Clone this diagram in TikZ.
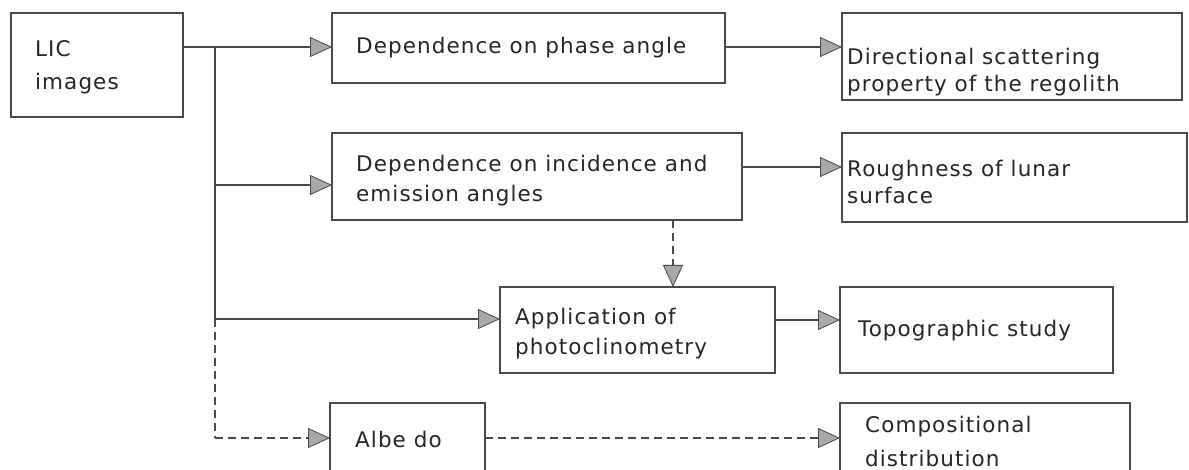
\documentclass[tikz,border=0pt]{standalone}
\usepackage{fontspec}
\setmainfont{DejaVu Sans}[LetterSpace=5]
\usetikzlibrary{arrows.meta}
\definecolor{ln}{HTML}{4A4A4A}
\definecolor{tipfill}{HTML}{A8A8A8}
\tikzset{
  box/.style={draw=ln, line width=1.4pt, inner sep=0pt, outer sep=0pt, rectangle},
  txt/.style={anchor=west, align=left, inner sep=0pt, text=black!85,
    font=\fontsize{21.5}{30}\selectfont},
  arr/.style={draw=ln, line width=1.3pt,
    -{Triangle[length=22pt,width=20pt,fill=tipfill,line width=0.8pt]}},
  line/.style={draw=ln, line width=1.3pt},
  dsh/.style={dash pattern=on 8pt off 5pt}
}
\begin{document}
\begin{tikzpicture}[x=1pt,y=-1pt]
\useasboundingbox (0,0) rectangle (1189,470);
% boxes
\node[box, minimum width=172pt, minimum height=104pt] (lic) at (97,65) {};
\node[box, minimum width=393pt, minimum height=70pt] (phase) at (528.5,48) {};
\node[box, minimum width=340pt, minimum height=87pt] (dir) at (1012,56.5) {};
\node[box, minimum width=410pt, minimum height=87pt] (inc) at (537,176.5) {};
\node[box, minimum width=345pt, minimum height=89pt] (rough) at (1014.5,177.5) {};
\node[box, minimum width=275pt, minimum height=86pt] (app) at (637.5,330) {};
\node[box, minimum width=273pt, minimum height=86pt] (topo) at (976.5,330) {};
\node[box, minimum width=155pt, minimum height=87pt] (alb) at (407.5,446.5) {};
\node[box, minimum width=290pt, minimum height=87pt] (comp) at (985,446.5) {};
% texts
\node[txt, font=\fontsize{21.5}{33}\selectfont] (tlic) at (35,67) {LIC\\images};
\node[txt] (tphase) at (356,48) {Dependence on phase angle};
\node[txt, font=\fontsize{21.5}{27}\selectfont] (tdir) at (847,72) {Directional scattering\\property of the regolith};
\node[txt] (tinc) at (356,181) {Dependence on incidence and\\emission angles};
\node[txt, font=\fontsize{21.5}{27}\selectfont] (trough) at (847,182) {Roughness of lunar\\surface};
\node[txt] (tapp) at (515,334) {Application of\\photoclinometry};
\node[txt] (ttopo) at (858,331) {Topographic study};
\node[txt] (talb) at (355,439) {Albe do};
\node[txt, font=\fontsize{21.5}{34}\selectfont] (tcomp) at (865,441) {Compositional\\distribution};
% junctions
\coordinate (j1) at (215,47);
\coordinate (j2) at (215,185);
\coordinate (j3) at (215,319);
\coordinate (j4) at (215,438);
\coordinate (yr) at (0,167);
\coordinate (yt) at (0,320);
\coordinate (xd) at (673,0);
% connectors
\draw[arr] (lic.east |- j1) -- (phase.west |- j1);
\draw[line] (j1) -- (j3);
\draw[arr] (j2) -- (inc.west |- j2);
\draw[arr] (j3) -- (app.west |- j3);
\draw[line,dsh] (j3) -- (j4);
\draw[arr,dsh] (j4) -- (alb.west |- j4);
\draw[arr] (phase.east |- j1) -- (dir.west |- j1);
\draw[arr] (inc.east |- yr) -- (rough.west |- yr);
\draw[arr,dsh] (inc.south -| xd) -- (app.north -| xd);
\draw[arr] (app.east |- yt) -- (topo.west |- yt);
\draw[arr,dsh] (alb.east |- j4) -- (comp.west |- j4);
\end{tikzpicture}
\end{document}
